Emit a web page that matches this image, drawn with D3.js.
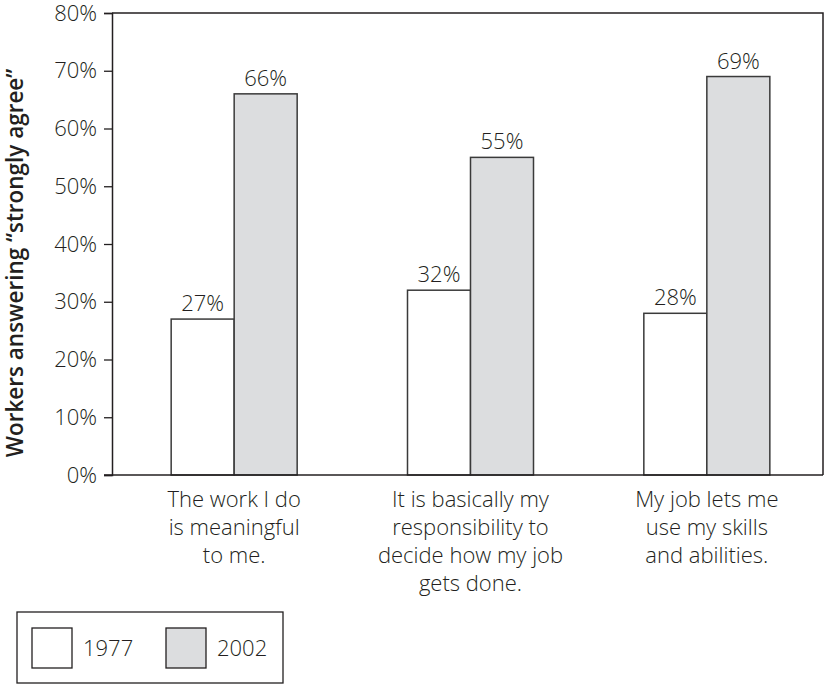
<!DOCTYPE html>
<html>
<head>
<meta charset="utf-8">
<script src="https://cdn.jsdelivr.net/npm/d3@7"></script>
<style>
  body { margin:0; background:#fff; }
  svg text { font-family:"Open Sans", sans-serif; fill:#231f20; }
</style>
</head>
<body>
<svg id="chart" width="824" height="684"></svg>
<script>
// data
var categories = [
  ["The work I do", "is meaningful", "to me."],
  ["It is basically my", "responsibility to", "decide how my job", "gets done."],
  ["My job lets me", "use my skills", "and abilities."]
];
var years = ["1977", "2002"];
var values1977 = [27, 32, 28];
var values2002 = [66, 55, 69];
var yTicks = [0, 10, 20, 30, 40, 50, 60, 70, 80];

var width = 824, height = 684;
var margins = { top:13, left:112, right:1, bottom:209 };
var ink = "#231f20";
var fills = ["#ffffff", "#dcdddf"];
var fontSize = '22px';

var svg = d3.select('#chart');

var y = d3.scaleLinear()
  .domain([0, 80])
  .range([height - margins.bottom, margins.top]);

var x0 = d3.scaleBand()
  .domain(d3.range(categories.length))
  .range([margins.left + 4, width - margins.right + 2]);

var x1 = d3.scaleBand()
  .domain(years)
  .range([-63, 63]);

// frame: top + right lines
svg.append('path')
  .attr('d', "M" + margins.left + "," + margins.top + "H" + (width - margins.right) + "V" + y(0))
  .attr('fill', 'none')
  .attr('stroke', ink)
  .attr('stroke-width', 1.5);

// bars
var series = years.map(function(yr, i){
  return { year: yr, values: i === 0 ? values1977 : values2002, fill: fills[i] };
});

series.forEach(function(s){
  var g = svg.append('g').attr('class', 'series');
  g.selectAll('rect').data(s.values).enter().append('rect')
    .attr('x', function(d,i){ return x0(i) + x0.bandwidth()/2 + x1(s.year); })
    .attr('y', function(d){ return y(d); })
    .attr('width', x1.bandwidth())
    .attr('height', function(d){ return y(0) - y(d); })
    .attr('fill', s.fill)
    .attr('stroke', '#3a3a3a')
    .attr('stroke-width', 1.5);
  g.selectAll('text').data(s.values).enter().append('text')
    .attr('x', function(d,i){ return x0(i) + x0.bandwidth()/2 + x1(s.year) + x1.bandwidth()/2; })
    .attr('y', function(d){ return y(d) - 8; })
    .attr('text-anchor', 'middle')
    .style('font-size', fontSize)
    .style('font-weight', 300)
    .text(function(d){ return d + "%"; });
});

// y axis
var yAxis = d3.axisLeft(y)
  .tickValues(yTicks)
  .tickSize(8)
  .tickPadding(7)
  .tickFormat(function(d){ return d + "%"; });

var yG = svg.append('g')
  .attr('class', 'yAxis')
  .attr('transform', 'translate(' + margins.left + ',0)')
  .call(yAxis);
yG.select('.domain').attr('stroke', ink).attr('stroke-width', 1.5);
yG.selectAll('.tick line').attr('stroke', ink).attr('stroke-width', 1.3);
yG.selectAll('.tick text')
  .style('font-size', fontSize)
  .style('font-weight', 300)
  .attr('fill', ink);

// x baseline
svg.append('line')
  .attr('x1', margins.left - 8).attr('x2', width - margins.right)
  .attr('y1', y(0)).attr('y2', y(0))
  .attr('stroke', ink).attr('stroke-width', 1.5);

// category labels
categories.forEach(function(lines, i){
  var t = svg.append('text')
    .attr('x', x0(i) + x0.bandwidth()/2)
    .attr('y', y(0) + 32)
    .attr('text-anchor', 'middle')
    .style('font-size', fontSize)
    .style('font-weight', 300);
  lines.forEach(function(l, j){
    t.append('tspan')
      .attr('x', x0(i) + x0.bandwidth()/2)
      .attr('dy', j === 0 ? 0 : 28)
      .text(l);
  });
});

// y title
svg.append('text')
  .attr('transform', 'translate(23,263) rotate(-90)')
  .attr('text-anchor', 'middle')
  .style('font-size', '22.5px')
  .style('font-weight', 600)
  .text("Workers answering \u201cstrongly agree\u201d");

// legend
var legend = svg.append('g').attr('class', 'legend');
legend.append('rect')
  .attr('x', 17).attr('y', 612)
  .attr('width', 266).attr('height', 71)
  .attr('fill', 'none').attr('stroke', ink).attr('stroke-width', 1.3);
years.forEach(function(yr, i){
  legend.append('rect')
    .attr('x', 32 + i*134).attr('y', 628)
    .attr('width', 40).attr('height', 40)
    .attr('fill', fills[i]).attr('stroke', ink).attr('stroke-width', 1.3);
  legend.append('text')
    .attr('x', 83 + i*134).attr('y', 656)
    .style('font-size', fontSize)
    .style('font-weight', 300)
    .text(yr);
});
</script>
</body>
</html>
